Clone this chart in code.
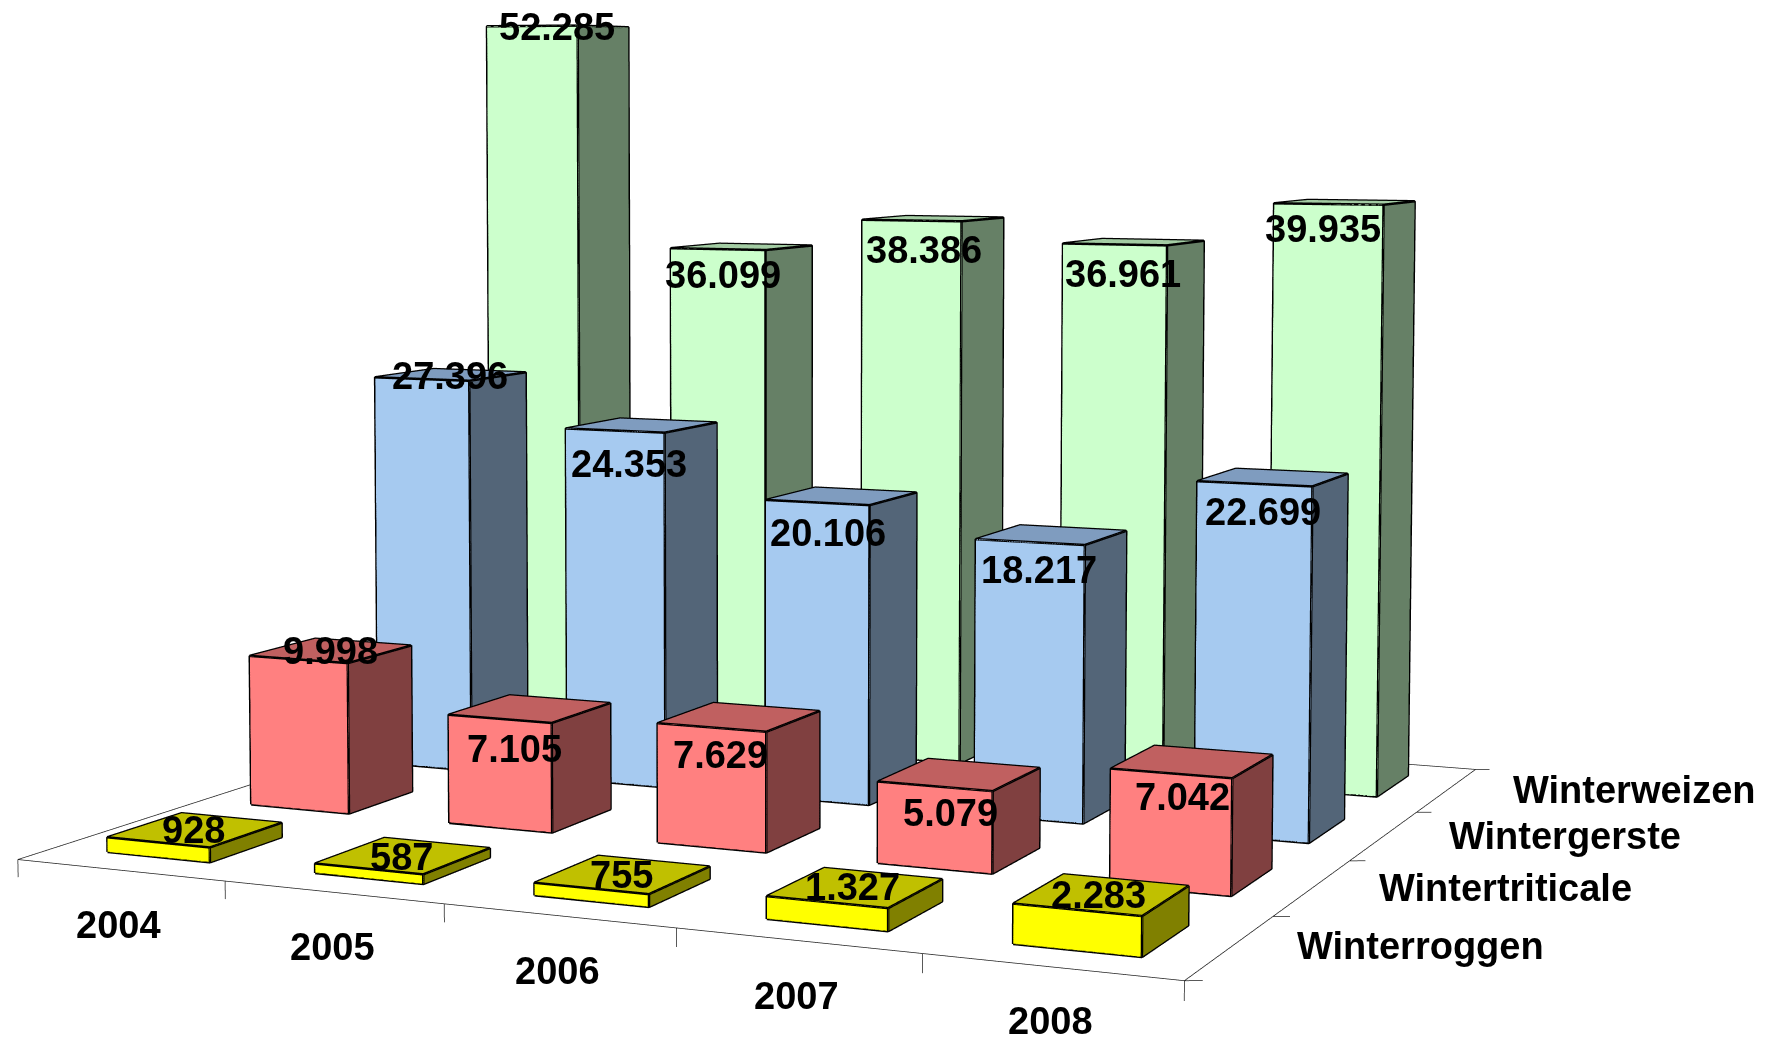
import numpy as np, plotly.graph_objects as go

YEARS = ["2004", "2005", "2006", "2007", "2008"]
SERIES = ["Winterroggen", "Wintertriticale", "Wintergerste", "Winterweizen"]
ROGGEN = [928, 587, 755, 1327, 2283]
TRITICALE = [9998, 7105, 7629, 5079, 7042]
GERSTE = [27396, 24353, 20106, 18217, 22699]
WEIZEN = [52285, 36099, 38386, 36961, 39935]
VALUES = [ROGGEN, TRITICALE, GERSTE, WEIZEN]

FRONT = ["#FFFF00", "#FF8080", "#A6CAF0", "#CCFFCC"]
SIDE = ["#808000", "#804040", "#536578", "#668066"]
TOP = ["#C0C000", "#C06060", "#7F9CBF", "#A3CCA3"]

# Where the text sits in the picture (reference px at 1568 wide), used to derive annotation shifts
VALUE_LABEL_CENTRES = [
    [(171, 736), (356, 759), (551, 775), (756, 786), (974, 793)],
    [(293, 577), (456, 664), (638, 669), (843, 720), (1048, 706)],
    [(399, 333), (557, 412), (734, 473), (921, 505), (1120, 454)],
    [(494, 24), (641, 244), (819, 221), (995, 243), (1173, 203)],
]
YEAR_LABEL_CENTRES = [(105, 820), (294, 840), (494, 860), (706, 882), (931, 905)]
SERIES_LABEL_LEFTS = [(1148, 839), (1220, 787), (1283, 741), (1339, 700)]
K = 1769 / 1568

# Long-lens camera: the scene is larger than the window and the page shows a part of it
WIN_W, WIN_H = 1769, 1037
FOCAL = 3648.0
PX, PY = 776.0, 338.0
SCENE_H = int(round(2 * FOCAL * np.tan(np.pi / 8)))
SCENE_W = int(2 * (WIN_W - PX) + 2)
OFF_L = int(PX - SCENE_W / 2)
OFF_T = int(PY - SCENE_H / 2)
EYE = np.array([0.964, -2.180, 0.201])
CENTER = np.array([0.124, -0.303, 0.061])
ASPECT = (1.056, 1.0, 0.650)
XR = (-1, 6)
YR = (-1, 5)
ZR = (-5000, 60000)

def project(x, y, z):
    m = np.array([(x - sum(XR) / 2) / (XR[1] - XR[0]) * ASPECT[0],
                  (y - sum(YR) / 2) / (YR[1] - YR[0]) * ASPECT[1],
                  (z - sum(ZR) / 2) / (ZR[1] - ZR[0]) * ASPECT[2]])
    fw = CENTER - EYE
    fw = fw / np.linalg.norm(fw)
    r = np.cross(fw, [0, 0, 1.0])
    r = r / np.linalg.norm(r)
    u = np.cross(r, fw)
    d = m - EYE
    return PX + FOCAL * (d @ r) / (d @ fw), PY - FOCAL * (d @ u) / (d @ fw)

fig = go.Figure()
for r, vals in enumerate(VALUES):
    X, Y, Z, I, J, L, C, ex, ey, ez = [], [], [], [], [], [], [], [], [], []
    for i, v in enumerate(vals):
        x0, x1, y0, y1 = i + .25, i + .75, r + .25, r + .75
        n = len(X)
        for a, b, c in [(x0, y0, 0), (x1, y0, 0), (x1, y0, v), (x0, y0, v), (x1, y1, 0), (x1, y1, v), (x0, y1, v)]:
            X.append(a); Y.append(b); Z.append(c)
        for t, col in [((0, 1, 2), FRONT[r]), ((0, 2, 3), FRONT[r]), ((1, 4, 5), SIDE[r]), ((1, 5, 2), SIDE[r]),
                       ((3, 2, 5), TOP[r]), ((3, 5, 6), TOP[r])]:
            I.append(n + t[0]); J.append(n + t[1]); L.append(n + t[2]); C.append(col)
        for s in [(0, 1, 2, 3, 0), (1, 4, 5, 2), (3, 6, 5)]:
            for t in s:
                ex.append(X[n + t]); ey.append(Y[n + t]); ez.append(Z[n + t])
            ex.append(None); ey.append(None); ez.append(None)
    fig.add_trace(go.Mesh3d(x=X, y=Y, z=Z, i=I, j=J, k=L, facecolor=C, flatshading=True, name=SERIES[r], hoverinfo="skip",
                            lighting=dict(ambient=1, diffuse=0, specular=0, fresnel=0, roughness=1)))
    fig.add_trace(go.Scatter3d(x=ex, y=ey, z=ez, mode="lines", line=dict(color="black", width=5), hoverinfo="skip", showlegend=False))

# floor outline and tick marks
nx, ny = len(YEARS), len(SERIES)
fx, fy, fz = [0, nx, nx, 0, 0, None], [0, 0, ny, ny, 0, None], [0, 0, 0, 0, 0, None]
for i in range(nx + 1):
    fx += [i, i, None]; fy += [0, 0, None]; fz += [0, -1100, None]
for j in range(ny + 1):
    fx += [nx, nx + .059, None]; fy += [j, j + .0255, None]; fz += [0, 0, None]
fig.add_trace(go.Scatter3d(x=fx, y=fy, z=fz, mode="lines", line=dict(color="#222222", width=1.5), hoverinfo="skip", showlegend=False))

font = dict(family="Liberation Sans", size=38, color="black", weight=700)
ann = []
def add(x, y, z, text, tx, ty, **kw):
    px, py = project(x, y, z)
    ann.append(dict(x=x, y=y, z=z, text=text, showarrow=False, font=font,
                    xshift=round(tx * K - px), yshift=round(py - ty * K), **kw))
for r, vals in enumerate(VALUES):
    for i, v in enumerate(vals):
        add(i + .5, r + .5, v, f"{v:,}".replace(",", "."), *VALUE_LABEL_CENTRES[r][i])
for i, y in enumerate(YEARS):
    add(i + .5, 0, 0, y, *YEAR_LABEL_CENTRES[i])
for r, s in enumerate(SERIES):
    add(nx, r + .5, 0, s, *SERIES_LABEL_LEFTS[r], xanchor="left")

fig.update_layout(width=SCENE_W, height=SCENE_H, margin=dict(l=0, r=0, t=0, b=0), paper_bgcolor="white", showlegend=False,
    scene=dict(domain=dict(x=[0, 1], y=[0, 1]), bgcolor="white",
        xaxis=dict(visible=False, range=XR), yaxis=dict(visible=False, range=YR), zaxis=dict(visible=False, range=ZR),
        aspectmode="manual", aspectratio=dict(x=ASPECT[0], y=ASPECT[1], z=ASPECT[2]),
        camera=dict(eye=dict(x=EYE[0], y=EYE[1], z=EYE[2]), center=dict(x=CENTER[0], y=CENTER[1], z=CENTER[2]),
                    up=dict(x=0, y=0, z=1), projection=dict(type="perspective")),
        annotations=ann))
post = f"""
document.documentElement.style.overflow='hidden';
document.body.style.margin='0';document.body.style.overflow='hidden';
var d=document.getElementsByClassName('plotly-graph-div')[0];
d.style.position='absolute';d.style.left='{OFF_L}px';d.style.top='{OFF_T}px';
"""
fig.write_html("out.html", post_script=post, config=dict(displayModeBar=False))
